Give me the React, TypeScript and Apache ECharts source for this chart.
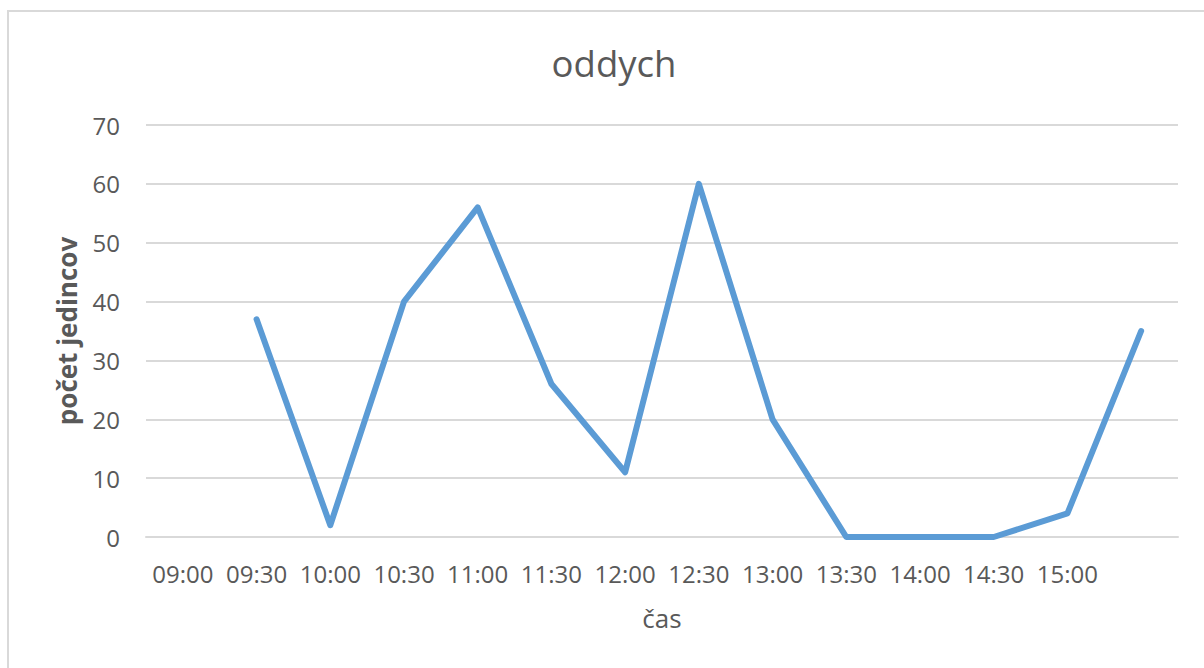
import React, { useEffect, useRef } from "react";
import * as echarts from "echarts";

const categories = ["09:00", "09:30", "10:00", "10:30", "11:00", "11:30", "12:00", "12:30", "13:00", "13:30", "14:00", "14:30", "15:00", ""];
const values: (number | null)[] = [null, 37, 2, 40, 56, 26, 11, 60, 20, 0, 0, 0, 4, 35];
const yTicks = { min: 0, max: 70, interval: 10 };
const titleText = "oddych";
const xName = "čas";
const yName = "počet jedincov";

const FONT = "'Open Sans', 'Noto Sans', sans-serif";
const TEXT = "#595959";
const GRID = "#d9d9d9";

export default function App() {
  const ref = useRef<HTMLDivElement>(null);
  useEffect(() => {
    if (!ref.current) return;
    const chart = echarts.init(ref.current, null, { renderer: "svg" });
    chart.setOption({
      animation: false,
      backgroundColor: "#ffffff",
      textStyle: { fontFamily: FONT },
      graphic: [
        {
          type: "rect",
          shape: { x: 8, y: 11, width: 1400, height: 900 },
          style: { fill: "none", stroke: GRID, lineWidth: 2 },
          silent: true,
        },
      ],
      title: {
        text: titleText,
        left: 609,
        textAlign: "center",
        top: 39,
        textStyle: { fontFamily: FONT, fontSize: 36.5, fontWeight: "normal", color: TEXT },
      },
      grid: { left: 146, right: 26, top: 125, bottom: 131 },
      xAxis: {
        type: "category",
        data: categories,
        boundaryGap: true,
        name: xName,
        nameLocation: "middle",
        nameGap: 68,
        nameTextStyle: { fontFamily: FONT, fontSize: 26, color: TEXT },
        axisLine: { show: true, lineStyle: { color: GRID, width: 2 } },
        axisTick: { show: false },
        axisLabel: { interval: 0, fontFamily: FONT, fontSize: 24, color: TEXT, margin: 24 },
        splitLine: { show: false },
      },
      yAxis: {
        type: "value",
        min: yTicks.min,
        max: yTicks.max,
        interval: yTicks.interval,
        name: yName,
        nameLocation: "middle",
        nameGap: 66,
        nameTextStyle: { fontFamily: FONT, fontSize: 26, fontWeight: "bold", color: TEXT },
        axisLine: { show: false },
        axisTick: { show: false },
        axisLabel: { fontFamily: FONT, fontSize: 24, color: TEXT, margin: 26 },
        splitLine: { show: true, lineStyle: { color: GRID, width: 2 } },
      },
      series: [
        {
          type: "line",
          data: values,
          symbol: "none",
          connectNulls: false,
          lineStyle: { color: "#5b9bd5", width: 6, cap: "round", join: "round" },
          itemStyle: { color: "#5b9bd5" },
        },
      ],
    });
    return () => chart.dispose();
  }, []);
  return (
    <div
      ref={ref}
      style={{ position: "fixed", left: 0, top: 0, width: 1204, height: 668, background: "#fff" }}
    />
  );
}
